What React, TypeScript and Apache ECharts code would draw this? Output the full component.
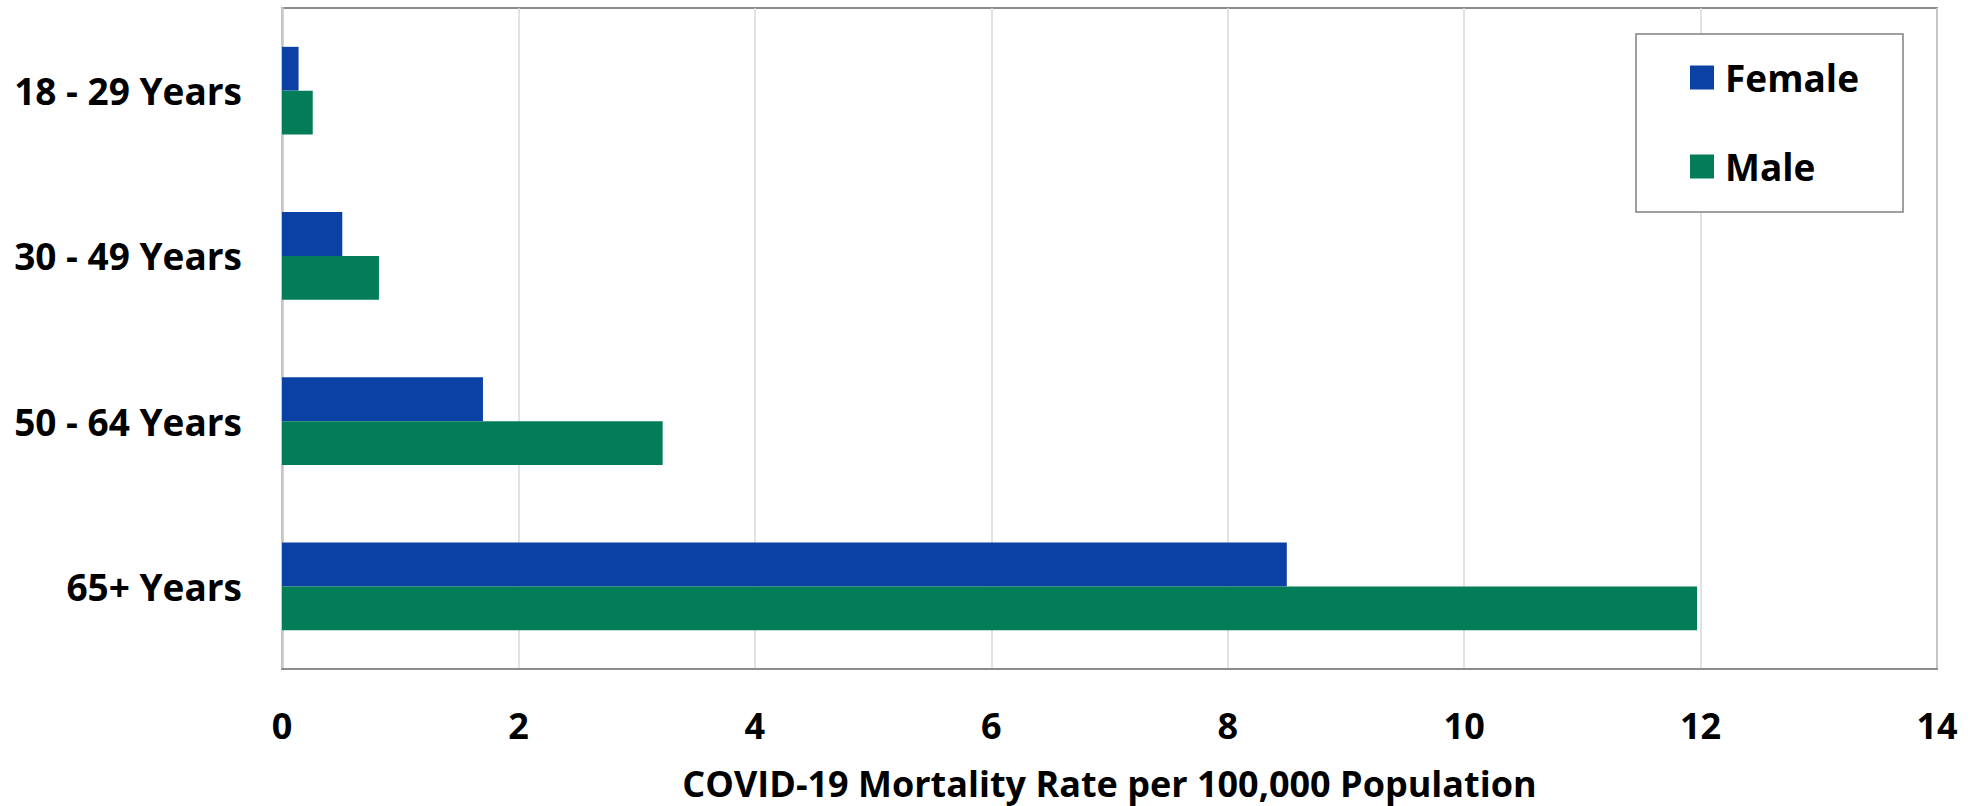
import React, { useEffect, useRef } from "react";
import * as echarts from "echarts";

const categories = ["18 - 29 Years", "30 - 49 Years", "50 - 64 Years", "65+ Years"];
const femaleValues = [0.14, 0.51, 1.7, 8.5];
const maleValues = [0.26, 0.82, 3.22, 11.97];
const seriesNames = ["Female", "Male"];
const xAxisTitle = "COVID-19 Mortality Rate per 100,000 Population";

const FONT = "'Open Sans', 'Noto Sans', sans-serif";

export default function App() {
  const ref = useRef<HTMLDivElement>(null);
  useEffect(() => {
    if (!ref.current) return;
    const chart = echarts.init(ref.current, null, { renderer: "svg" });
    chart.setOption({
      animation: false,
      backgroundColor: "#ffffff",
      grid: {
        left: 282,
        right: 37,
        top: 8,
        bottom: 135,
        show: true,
        borderColor: "#8c8c8c",
        borderWidth: 2,
      },
      legend: {
        orient: "vertical",
        left: 1636,
        top: 34,
        padding: [25, 44, 27, 54],
        itemGap: 52,
        itemWidth: 24,
        itemHeight: 24,
        icon: "rect",
        borderColor: "#808080",
        borderWidth: 1.5,
        backgroundColor: "#ffffff",
        textStyle: {
          fontFamily: FONT,
          fontWeight: "bold",
          fontSize: 37,
          color: "#000000",
          padding: [0, 0, 0, 6],
        },
        data: seriesNames,
      },
      xAxis: {
        type: "value",
        min: 0,
        max: 14,
        interval: 2,
        name: xAxisTitle,
        nameLocation: "middle",
        nameGap: 96,
        nameTextStyle: {
          fontFamily: FONT,
          fontWeight: "bold",
          fontSize: 36,
          color: "#000000",
        },
        axisLine: { show: true, lineStyle: { color: "#8c8c8c", width: 2 } },
        axisTick: { show: false },
        axisLabel: {
          margin: 38,
          fontFamily: FONT,
          fontWeight: "bold",
          fontSize: 36,
          color: "#000000",
        },
        splitLine: { show: true, lineStyle: { color: "#d9d9d9", width: 1.5 } },
      },
      yAxis: {
        type: "category",
        inverse: true,
        data: categories,
        axisLine: { show: true, lineStyle: { color: "#c6c6c6", width: 2.5 } },
        axisTick: { show: false },
        axisLabel: {
          margin: 40,
          fontFamily: FONT,
          fontWeight: "bold",
          fontSize: 37,
          color: "#000000",
        },
        splitLine: { show: false },
      },
      series: [
        {
          name: seriesNames[0],
          type: "bar",
          data: femaleValues,
          barGap: "0%",
          barCategoryGap: "47%",
          itemStyle: { color: "#0b41a5" },
        },
        {
          name: seriesNames[1],
          type: "bar",
          data: maleValues,
          barGap: "0%",
          barCategoryGap: "47%",
          itemStyle: { color: "#037c58" },
        },
      ],
    });
    return () => chart.dispose();
  }, []);
  return (
    <div
      ref={ref}
      style={{ position: "absolute", left: 0, top: 0, width: 1974, height: 806 }}
    />
  );
}
